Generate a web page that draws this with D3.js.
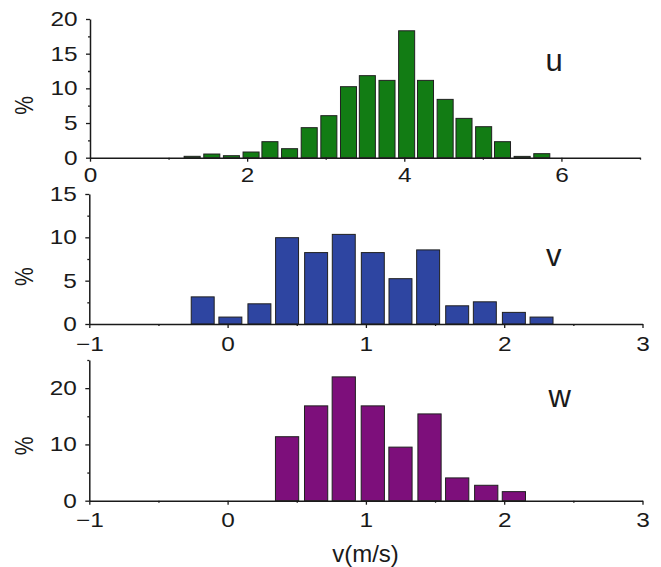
<!DOCTYPE html>
<html>
<head>
<meta charset="utf-8">
<script src="https://cdn.jsdelivr.net/npm/d3@7"></script>
<style>
  body { margin: 0; background: #fff; }
  svg { display: block; }
  text { font-family: "Liberation Sans", Arial, Helvetica, sans-serif; fill: #1a1a1a; }
</style>
</head>
<body>
<svg id="chart" width="661" height="567"></svg>
<script>
// Velocity histograms (% of samples per bin), one panel per component.
const uBins = [1.30, 1.55, 1.80, 2.05, 2.29, 2.54, 2.79, 3.04, 3.29, 3.53, 3.78, 4.03, 4.27, 4.52, 4.76, 5.01, 5.25, 5.50, 5.75];
const uPct  = [0.2, 0.53, 0.29, 0.82, 2.31, 1.3, 4.33, 6.06, 10.24, 11.83, 11.15, 18.3, 11.15, 8.41, 5.67, 4.47, 2.31, 0.19, 0.58];

const vBins = [-0.18, 0.02, 0.23, 0.43, 0.64, 0.84, 1.05, 1.25, 1.45, 1.66, 1.86, 2.07, 2.27];
const vPct  = [3.13, 0.8, 2.33, 9.96, 8.24, 10.34, 8.24, 5.23, 8.55, 2.1, 2.56, 1.34, 0.8];

const wBins = [0.43, 0.64, 0.84, 1.05, 1.25, 1.46, 1.66, 1.87, 2.07];
const wPct  = [11.37, 16.85, 22.0, 16.85, 9.52, 15.42, 4.05, 2.74, 1.61];

// Tick values
const uXMajor = [0, 2, 4, 6], uXMinor = [1, 3, 5, 7];
const vwXMajor = [-1, 0, 1, 2, 3], vwXMinor = [-0.5, 0.5, 1.5, 2.5];
const uYMajor = [0, 5, 10, 15, 20], uYMinor = [2.5, 7.5, 12.5, 17.5];
const vYMajor = [0, 5, 10, 15], vYMinor = [2.5, 7.5, 12.5];
const wYMajor = [0, 10, 20], wYMinor = [5, 15, 25];

const svg = d3.select("#chart");
const ink = "#1a1a1a";
const digitStretch = 1.22;
const intFmt = d3.format("d");

const panels = [
  { label: "u", bins: uBins, pct: uPct, fill: "#127c14",
    xDomain: [0, 7], xRange: [90, 640], xMajor: uXMajor, xMinor: uXMinor, xPad: 6,
    yDomain: [0, 20], yRange: [157.7, 19], yMajor: uYMajor, yMinor: uYMinor,
    half: 0.102, letter: [554, 70.7], pctY: 105.5 },
  { label: "v", bins: vBins, pct: vPct, fill: "#2e45a1",
    xDomain: [-1, 3], xRange: [89.3, 642.5], xMajor: vwXMajor, xMinor: vwXMinor, xPad: 8.5,
    yDomain: [0, 15], yRange: [324, 194], yMajor: vYMajor, yMinor: vYMinor,
    half: 0.083, letter: [553.7, 266], pctY: 276.7 },
  { label: "w", bins: wBins, pct: wPct, fill: "#7d0f7b",
    xDomain: [-1, 3], xRange: [89.3, 642.5], xMajor: vwXMajor, xMinor: vwXMinor, xPad: 8.5,
    yDomain: [0, 25], yRange: [500.7, 360], yMajor: wYMajor, yMinor: wYMinor,
    half: 0.084, letter: [559.7, 407.3], pctY: 445.8 }
];

panels.forEach(p => {
  const x = d3.scaleLinear().domain(p.xDomain).range(p.xRange);
  const y = d3.scaleLinear().domain(p.yDomain).range(p.yRange);
  const g = svg.append("g");
  const base = y(0);

  // bars
  g.selectAll("rect.bar")
    .data(p.bins.map((c, i) => ({ c, v: p.pct[i] })))
    .join("rect")
    .attr("class", "bar")
    .attr("x", d => x(d.c - p.half))
    .attr("width", d => x(d.c + p.half) - x(d.c - p.half))
    .attr("y", d => y(d.v))
    .attr("height", d => base - y(d.v))
    .attr("fill", p.fill)
    .attr("stroke", "#202020")
    .attr("stroke-width", 1);

  // x axis: major and minor ticks
  const xAxis = g.append("g").attr("transform", `translate(0,${base})`)
    .call(d3.axisBottom(x).tickValues(p.xMajor).tickFormat(intFmt)
      .tickSize(4).tickSizeOuter(0).tickPadding(p.xPad));
  g.append("g").attr("transform", `translate(0,${base})`)
    .call(d3.axisBottom(x).tickValues(p.xMinor).tickSize(2).tickSizeOuter(0).tickFormat(""))
    .select(".domain").remove();

  // y axis: major and minor ticks
  const yAxis = g.append("g").attr("transform", `translate(${p.xRange[0]},0)`)
    .call(d3.axisLeft(y).tickValues(p.yMajor).tickFormat(intFmt)
      .tickSize(4).tickSizeOuter(0).tickPadding(8));
  g.append("g").attr("transform", `translate(${p.xRange[0]},0)`)
    .call(d3.axisLeft(y).tickValues(p.yMinor).tickSize(2).tickSizeOuter(0).tickFormat(""))
    .select(".domain").remove();

  g.selectAll(".domain").attr("stroke", ink).attr("stroke-width", 1.5);
  g.selectAll(".tick line").attr("stroke", ink).attr("stroke-width", 1.3);

  xAxis.selectAll("text")
    .attr("font-size", 20).attr("fill", ink)
    .attr("transform", `scale(${digitStretch},1)`);
  yAxis.selectAll("text")
    .attr("font-size", 20).attr("fill", ink)
    .attr("x", -12.4 / digitStretch)
    .attr("transform", `scale(${digitStretch},1)`);
  g.selectAll(".tick text").attr("font-family", null);

  // y axis title
  g.append("text")
    .attr("transform", `translate(24.2,${p.pctY}) scale(1.2,1) rotate(-90)`)
    .attr("text-anchor", "middle")
    .attr("dy", "0.35em")
    .attr("font-size", 21)
    .text("%");

  // component label
  g.append("text")
    .attr("x", p.letter[0]).attr("y", p.letter[1])
    .attr("text-anchor", "middle")
    .attr("font-size", 31)
    .text(p.label);
});

// shared x axis title
svg.append("text")
  .attr("x", 365.5).attr("y", 561.7)
  .attr("text-anchor", "middle")
  .attr("font-size", 24)
  .text("v(m/s)");
</script>
</body>
</html>
